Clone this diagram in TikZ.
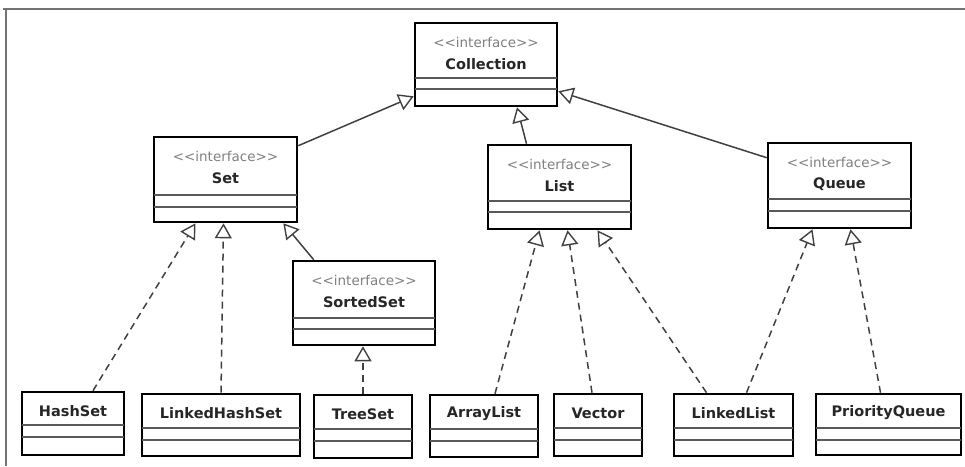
\documentclass[tikz,border=0pt]{standalone}
\usepackage{fontspec}
\setmainfont{DejaVu Sans}
\usetikzlibrary{arrows.meta,fit}
\tikzset{
  box/.style={draw=black, line width=2.6pt, inner sep=0pt, rectangle},
  divider/.style={draw=black!65, line width=1.6pt},
  stereo/.style={text=black!50, font=\fontsize{13.5}{15}\selectfont, inner sep=0pt},
  cname/.style={text=black!85, font=\fontsize{14.5}{16}\selectfont\bfseries, inner sep=0pt},
  gen/.style={draw=black!75, line width=1.5pt,
    -{Triangle[open, length=15pt, width=17pt, line width=1.4pt]}},
  real/.style={gen, dash pattern=on 7pt off 5pt},
  frameline/.style={draw=black!55, line width=2.5pt}
}
\newcommand\ifacebox[8]{%
  \node[box, fit={(#2,#3) (#4,#5)}] (#1) {};
  \draw[divider] (#2,#6) -- (#4,#6);
  \draw[divider] (#2,#7) -- (#4,#7);
  \node[stereo] (#1-st) at ({(#2+#4)/2},{#3+19}) {\textless\kern0pt\textless\kern0pt interface\textgreater\kern0pt\textgreater};
  \node[cname] (#1-nm) at ({(#2+#4)/2},{#3+41}) {#8};
}
\newcommand\classbox[8]{%
  \node[box, fit={(#2,#3) (#4,#5)}] (#1) {};
  \draw[divider] (#2,#6) -- (#4,#6);
  \draw[divider] (#2,#7) -- (#4,#7);
  \node[cname] (#1-nm) at ({(#2+#4)/2},{#3+19}) {#8};
}
\begin{document}
\begin{tikzpicture}[x=1pt,y=-1pt]
\useasboundingbox (0,0) rectangle (965,466);
% frame
\coordinate (fa) at (3,9);
\coordinate (fb) at (965,9);
\coordinate (fc) at (6,9);
\coordinate (fd) at (6,466);
\draw[frameline] (fa) -- (fb);
\draw[frameline] (fc) -- (fd);

% interfaces
\ifacebox{coll}{415}{23}{557}{106}{78}{89}{Collection}
\ifacebox{set}{154}{137}{297}{222}{195}{207}{Set}
\ifacebox{sorted}{293}{261}{435}{345}{318}{329}{SortedSet}
\ifacebox{list}{488}{145}{631}{229}{201}{212}{List}
\ifacebox{queue}{768}{143}{911}{228}{199}{211}{Queue}

% classes
\classbox{hashset}{22}{392}{124}{455}{425}{437}{HashSet}
\classbox{lhs}{142}{394}{300}{456}{428}{440}{LinkedHashSet}
\classbox{treeset}{314}{395}{412}{458}{429}{441}{TreeSet}
\classbox{arraylist}{430}{395}{538}{457}{429}{441}{ArrayList}
\classbox{vector}{554}{394}{642}{456}{428}{440}{Vector}
\classbox{llist}{674}{394}{793}{456}{428}{440}{LinkedList}
\classbox{pq}{816}{394}{961}{455}{428}{440}{PriorityQueue}

% generalizations
\draw[gen] ([yshift=-10pt]set.north east) -- ([yshift=11pt]coll.south west);
\draw[gen] ([xshift=-33pt]list.north) -- ([xshift=31pt]coll.south);
\draw[gen] ([yshift=-16pt]queue.north west) -- ([yshift=16pt]coll.south east);
\draw[gen] ([xshift=22pt]sorted.north west) -- ([xshift=-15pt]set.south east);

% realizations
\draw[real] ([xshift=20pt]hashset.north) -- ([xshift=-30pt]set.south);
\draw[real] (lhs.north) -- ([xshift=-2pt]set.south);
\draw[real] (treeset.north) -- (treeset.north |- sorted.south);
\draw[real] ([xshift=11pt]arraylist.north) -- ([xshift=-20pt]list.south);
\draw[real] ([xshift=-6pt]vector.north) -- ([xshift=8pt]list.south);
\draw[real] ([xshift=-27pt]llist.north) -- ([xshift=38pt]list.south);
\draw[real] ([xshift=13pt]llist.north) -- ([xshift=-27pt]queue.south);
\draw[real] ([xshift=-8pt]pq.north) -- ([xshift=11pt]queue.south);
\end{tikzpicture}
\end{document}
